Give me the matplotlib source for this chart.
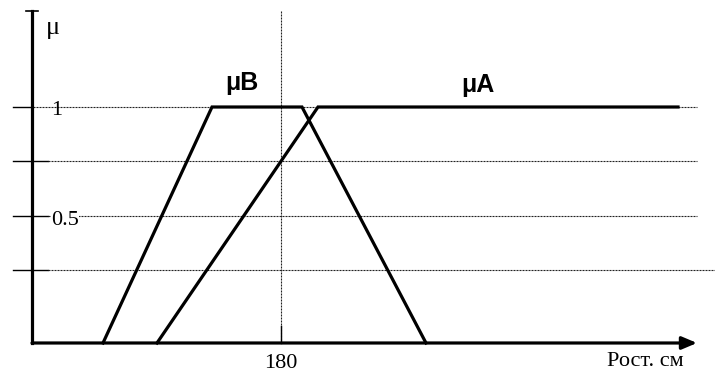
import matplotlib
matplotlib.use("Agg")
import matplotlib.pyplot as plt

# membership functions (height in cm, membership degree)
mu_b_x = [144.4, 166.2, 184.2, 209.0]
mu_b_y = [0, 1, 1, 0]
mu_a_x = [155.2, 187.4, 259.4]
mu_a_y = [0, 1, 1]

# horizontal guide levels and their labels
grid_levels = [1.0, 0.77, 0.54, 0.31]
level_labels = ["1", "", "0.5", ""]
mark_x = 180

serif = "Liberation Serif"
sans = "Liberation Sans"

fig = plt.figure(figsize=(7.15, 3.74), dpi=100)
ax = fig.add_axes([0, 0, 1, 1])
ax.set_xlim(123.8, 266.8)
ax.set_ylim(-0.1314, 1.4534)
ax.axis("off")

grid_kw = dict(color="#222222", lw=0.8, linestyle=(0, (1.8, 0.9)))

# guide lines with short solid ticks on the left
for i, (lev, lab) in enumerate(zip(grid_levels, level_labels)):
    if i == 0:
        ax.plot([126.4, 130.4], [lev, lev], color="k", lw=1.0)
        ax.plot([130.4, 263.2], [lev, lev], **grid_kw)
    else:
        ax.plot([126.4, 133.4], [lev, lev], color="k", lw=1.0)
        end = 266.8 if i == len(grid_levels) - 1 else 263.2
        ax.plot([133.4, end], [lev, lev], **grid_kw)

# labels on guide lines
ax.text(135.2, 0.985, "1", fontfamily=serif, fontsize=16, ha="center", va="center")
ax.text(136.8, 0.52, "0.5", fontfamily=serif, fontsize=16, ha="center", va="center",
        bbox=dict(facecolor="white", edgecolor="none", pad=0))

# vertical marker at 180
ax.plot([mark_x, mark_x], [0, 1.411], **grid_kw)
ax.plot([mark_x, mark_x], [0, 0.07], color="k", lw=1.0)

# membership curves
ax.plot(mu_b_x, mu_b_y, color="k", lw=2.3, solid_joinstyle="miter")
ax.plot(mu_a_x, mu_a_y, color="k", lw=2.3, solid_joinstyle="miter")

# axes
ax.plot([130.2, 130.2], [0, 1.407], color="k", lw=2.3)
ax.plot([129.0, 131.4], [1.407, 1.407], color="k", lw=1.2)
ax.annotate("", xy=(263.2, 0), xytext=(130.2, 0),
            arrowprops=dict(arrowstyle="-|>,head_length=0.9,head_width=0.38",
                            lw=2.3, color="k", shrinkA=0, shrinkB=0, mutation_scale=10))

# texts
ax.text(134.4, 1.335, "μ", fontfamily=serif, fontsize=19, ha="center", va="center")
ax.text(mark_x, -0.085, "180", fontfamily=serif, fontsize=16, ha="center", va="center")
ax.text(252.8, -0.078, "Рост. см", fontfamily=serif, fontsize=16, ha="center", va="center")
ax.text(172.2, 1.102, "μB", fontfamily=sans, fontsize=18, fontweight="bold",
        ha="center", va="center")
ax.text(219.4, 1.093, "μA", fontfamily=sans, fontsize=18, fontweight="bold",
        ha="center", va="center")

fig.savefig("out.png", dpi=100)
